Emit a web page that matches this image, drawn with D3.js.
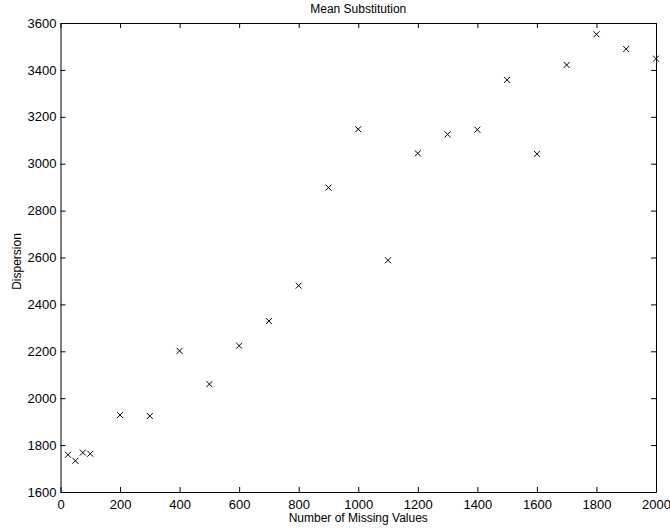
<!DOCTYPE html>
<html>
<head>
<meta charset="utf-8">
<script src="https://cdn.jsdelivr.net/npm/d3@7"></script>
<style>
  body { margin: 0; background: #fff; }
  text { font-family: "Liberation Sans", Arial, sans-serif; fill: #000; }
</style>
</head>
<body>
<div id="vis"></div>
<script>
// Frame constants
const FRAME_WIDTH = 670;
const FRAME_HEIGHT = 531;
const MARGINS = {left: 60.5, right: 14, top: 23, bottom: 39};

// Data
const missing = [25, 50, 75, 100, 200, 300, 400, 500, 600, 700, 800, 900, 1000,
                 1100, 1200, 1300, 1400, 1500, 1600, 1700, 1800, 1900, 2000];
const dispersion = [1759, 1733, 1768, 1763, 1928, 1924, 2202, 2060, 2224, 2329, 2480, 2898, 3147,
                    2588, 3044, 3125, 3145, 3357, 3042, 3421, 3552, 3489, 3448];
const xTicks = [0, 200, 400, 600, 800, 1000, 1200, 1400, 1600, 1800, 2000];
const yTicks = [1600, 1800, 2000, 2200, 2400, 2600, 2800, 3000, 3200, 3400, 3600];

const VIS_WIDTH = FRAME_WIDTH - MARGINS.left - MARGINS.right;
const VIS_HEIGHT = FRAME_HEIGHT - MARGINS.top - MARGINS.bottom;

const FRAME = d3.select("#vis")
  .append("svg")
    .attr("width", FRAME_WIDTH)
    .attr("height", FRAME_HEIGHT);

const X_SCALE = d3.scaleLinear().domain([0, 2000]).range([0, VIS_WIDTH]);
const Y_SCALE = d3.scaleLinear().domain([1600, 3600]).range([VIS_HEIGHT, 0]);

const G = FRAME.append("g")
  .attr("transform", "translate(" + MARGINS.left + "," + MARGINS.top + ")");

// Axes: ticks pointing inward, box on all sides
function styleAxis(sel) {
  sel.select(".domain").attr("stroke", "#000").attr("stroke-width", 1);
  sel.selectAll(".tick line").attr("stroke", "#000");
  sel.selectAll(".tick text").attr("font-size", "13px")
    .attr("font-family", "Liberation Sans, Arial, sans-serif").attr("fill", "#000");
}

G.append("g")
  .attr("transform", "translate(0," + VIS_HEIGHT + ")")
  .call(d3.axisBottom(X_SCALE).tickValues(xTicks).tickSizeInner(-5).tickSizeOuter(0)
    .tickPadding(7.5).tickFormat(d3.format("d")))
  .call(styleAxis);

G.append("g")
  .call(d3.axisTop(X_SCALE).tickValues(xTicks).tickSizeInner(-5).tickSizeOuter(0)
    .tickFormat(""))
  .call(styleAxis);

G.append("g")
  .call(d3.axisLeft(Y_SCALE).tickValues(yTicks).tickSizeInner(-5).tickSizeOuter(0)
    .tickPadding(4).tickFormat(d3.format("d")))
  .call(styleAxis);

G.append("g")
  .attr("transform", "translate(" + VIS_WIDTH + ",0)")
  .call(d3.axisRight(Y_SCALE).tickValues(yTicks).tickSizeInner(-5).tickSizeOuter(0)
    .tickFormat(""))
  .call(styleAxis);

// Points as x markers
const S = 3;
G.selectAll(".pt")
  .data(missing.map((m, i) => ({x: m, y: dispersion[i]})))
  .enter()
  .append("path")
    .attr("class", "pt")
    .attr("d", d => {
      const cx = X_SCALE(d.x), cy = Y_SCALE(d.y);
      return "M" + (cx - S) + "," + (cy - S) + "L" + (cx + S) + "," + (cy + S) +
             "M" + (cx - S) + "," + (cy + S) + "L" + (cx + S) + "," + (cy - S);
    })
    .attr("stroke", "#000")
    .attr("stroke-width", 1)
    .attr("fill", "none");

// Title and labels
FRAME.append("text")
  .attr("x", MARGINS.left + VIS_WIDTH / 2)
  .attr("y", 13)
  .attr("text-anchor", "middle")
  .attr("font-size", "12px")
  .text("Mean Substitution");

FRAME.append("text")
  .attr("x", MARGINS.left + VIS_WIDTH / 2)
  .attr("y", 522)
  .attr("text-anchor", "middle")
  .attr("font-size", "12px")
  .text("Number of Missing Values");

FRAME.append("text")
  .attr("transform", "translate(21," + (MARGINS.top + VIS_HEIGHT / 2 + 4) + ") rotate(-90)")
  .attr("text-anchor", "middle")
  .attr("font-size", "12px")
  .text("Dispersion");
</script>
</body>
</html>
